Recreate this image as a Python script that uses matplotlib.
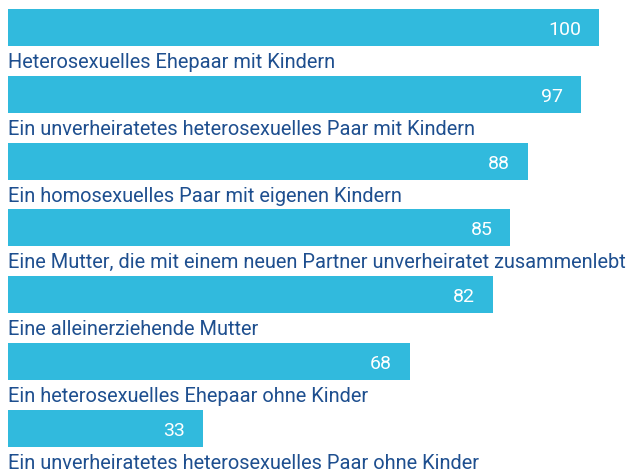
import matplotlib.pyplot as plt

# Werte aus der Grafik
labels = [
    'Heterosexuelles Ehepaar mit Kindern',
    'Ein unverheiratetes heterosexuelles Paar mit Kindern',
    'Ein homosexuelles Paar mit eigenen Kindern',
    'Eine Mutter, die mit einem neuen Partner unverheiratet zusammenlebt',
    'Eine alleinerziehende Mutter',
    'Ein heterosexuelles Ehepaar ohne Kinder',
    'Ein unverheiratetes heterosexuelles Paar ohne Kinder',
]
values = [100, 97, 88, 85, 82, 68, 33]

bar_color = '#31BADD'
text_color = '#1E4F8F'

W, H = 628, 470
fig = plt.figure(figsize=(W / 100, H / 100), dpi=100)
ax = fig.add_axes([0, 0, 1, 1])

px_per_unit = 5.91
x0 = 8
pitch = 66.8
first_center = 27.5
bar_h = 37 / pitch

ys = list(range(len(values)))
ax.barh(ys, values, height=bar_h, color=bar_color, left=0)

for y, v, lab in zip(ys, values, labels):
    ax.text(v - 18 / px_per_unit, y + 7.5 / pitch, str(v), color='white',
            ha='right', va='baseline', fontsize=14, family='Roboto')
    ax.text(0, y + 40.5 / pitch, lab, color=text_color, ha='left', va='baseline',
            fontsize=14.4, family='Roboto')

ax.set_xlim(-x0 / px_per_unit, (W - x0) / px_per_unit)
ax.set_ylim((H - first_center) / pitch, -first_center / pitch)
ax.axis('off')

fig.savefig('out.png', dpi=100)
